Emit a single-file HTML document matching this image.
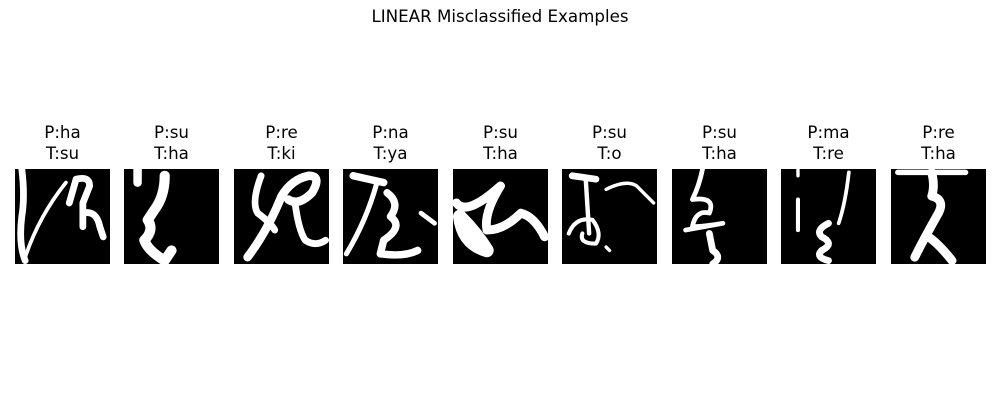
<!DOCTYPE html>
<html><head><meta charset="utf-8"><style>
body{margin:0;background:#fff;width:1000px;height:400px;overflow:hidden;font-family:"DejaVu Sans","Liberation Sans",sans-serif;}
.t{position:absolute;font-size:16.7px;color:#000;text-align:center;line-height:21px;}
svg.im{position:absolute;top:169px;width:95px;height:95px;}
svg.im path{fill:none;stroke:#fff;stroke-linecap:round;stroke-linejoin:round;}
</style></head><body>
<div class="t" style="left:0;width:1000px;top:6px;">LINEAR Misclassified Examples</div>
<div id="root"></div>
<script>
const preds=["ha","su","re","na","su","su","su","ma","re"];
const trues=["su","ha","ki","ya","ha","o","ha","re","ha"];
const lefts=[15,124,234,343,453,562,672,781,891];
const glyphs=[
 [["M2 0 Q3 8 2 14 Q1 22 3 27",2],["M3 26 Q7 14 15 4",1.1],["M16 10 L18 3 Q22 2 22 5 L20 10 L20 17",2],["M20 13 Q24 12 25 17 L26 20",2]],
 [["M4 0 L4 4",2.5],["M12 2 Q12 8 9 12 L7 15 Q9 18 6 21 Q7 24 12 27 L14 24",3]],
 [["M4 26 Q10 18 14 8 Q17 3 22 2 Q26 2 23 7 Q19 11 16 9",2.5],["M18 10 Q19 18 21 21 Q24 23 27 21",2],["M8 2 Q5 10 7 13 Q11 16 12 18",2]],
 [["M3 2 L12 4",2.2],["M10 4 Q7 15 1 25",1.5],["M13 7 Q17 10 14 14 Q18 17 12 21 L11 25 Q18 26 22 24",2.2],["M23 13 L27 16",1.4]],
 [["M1 10 Q4 14 14 5 Q9 13 10 18 Q15 18 20 13 Q24 14 27 20",2.6],["M2 14 Q3 22 10 24 Q7 19 2 14",4]],
 [["M3 2 L10 3",2],["M7 3 L8 19",1.3],["M2 19 Q4 14 9 15 Q12 19 10 22 Q5 22 6 19",1.2],["M13 6 Q19 3 22 5 L27 10",1],["M13 23 L14 24",1]],
 [["M9 0 Q8 5 6 9 Q13 8 11 13 Q7 12 6 17 Q9 17 15 16 L4 18",1.4],["M11 19 L12 24 Q15 26 12 28",2]],
 [["M5 0 L5 2",1],["M20 1 Q19 10 17 16",1.1],["M5 9 L5 18",1.2],["M14 16 Q10 18 12 20 Q16 22 12 24 Q10 26 14 27",2]],
 [["M2 1 L22 1",1.6],["M12 1 Q13 5 12 8 Q16 9 14 13 Q10 20 7 26",2.6],["M11 20 Q14 22 18 27",2.6]]
];
const root=document.getElementById('root');
for(let i=0;i<preds.length;i++){
 const d=document.createElement('div');
 d.className='t';
 d.style.left=(lefts[i]-20)+'px';d.style.width='135px';d.style.top='122px';
 d.textContent='P:'+preds[i];
 d.appendChild(document.createElement('br'));
 d.appendChild(document.createTextNode('T:'+trues[i]));
 
 
 root.appendChild(d);
 const s=document.createElementNS('http://www.w3.org/2000/svg','svg');
 s.setAttribute('class','im');
 s.setAttribute('viewBox','0 0 28 28');
 s.style.left=lefts[i]+'px';
 
 
 let h='<rect width="28" height="28" fill="#000"/>';
 for(const g of glyphs[i]) h+='<path d="'+g[0]+'" stroke-width="'+g[1]+'"/>';
 s.innerHTML=h;
 root.appendChild(s);
}
</script>
</body></html>
